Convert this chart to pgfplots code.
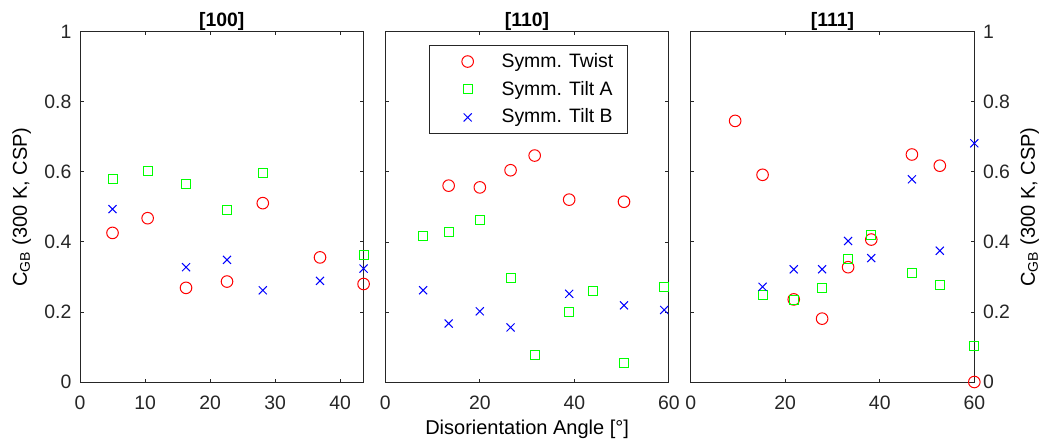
\documentclass[border=0pt]{standalone}
\usepackage{fontspec}
\setmainfont{Liberation Sans}
\usepackage{pgfplots}
\pgfplotsset{compat=1.18}
\definecolor{axgray}{rgb}{0.15,0.15,0.15}
\newcommand{\fs}{\fontsize{9.7}{11.6}\selectfont}
\pgfplotsset{
  panel/.style={
    scale only axis, width=141.8pt, height=175pt, anchor=south west,
    ymin=0, ymax=1, ytick={0,0.2,0.4,0.6,0.8,1},
    axis line style={axgray, line width=0.5pt},
    every tick/.style={axgray, line width=0.5pt},
    major tick length=1.75pt,
    tick align=inside, xtick pos=both, ytick pos=both,
    /pgf/number format/assume math mode=true,
    xticklabel style={font=\fs, text=axgray, anchor=base, yshift=-13.6pt, inner sep=0pt},
    yticklabel style={font=\fs, text=axgray, inner sep=0pt},
    clip=false,
    every axis title/.style={font=\fs\bfseries, at={(0.5,1)}, anchor=base, yshift=2.8pt, inner sep=0pt},
    label style={font=\fs, text=axgray},
  },
  twist/.style={only marks, mark=o, mark size=2.9pt, color=red, mark options={line width=0.5pt}},
  tiltA/.style={only marks, mark=square, mark size=2.25pt, color=green, mark options={line width=0.5pt}},
  tiltB/.style={only marks, mark=x, mark size=2.85pt, color=blue, mark options={line width=0.5pt}},
}
\begin{document}
\begin{tikzpicture}
\useasboundingbox (0pt,0pt) rectangle (523.5pt,219.5pt);
% ---------------- [100]
\begin{axis}[panel, at={(40pt,28.5pt)}, xmin=0, xmax=43.6, xtick={0,10,20,30,40},
  title={[100]},
  yticklabel style={anchor=east, xshift=-4.15pt},
  ylabel={C\textsubscript{GB} (300 K, CSP)},
  every axis y label/.style={at={(axis description cs:0,0.5)}, rotate=90, anchor=base, yshift=26.6pt, inner sep=0pt},
]
\addplot[twist] coordinates {(5.0,0.426) (10.4,0.468) (16.3,0.269) (22.6,0.287) (28.1,0.511) (36.9,0.356) (43.6,0.280)};
\addplot[tiltA] coordinates {(5.0,0.580) (10.4,0.604) (16.3,0.566) (22.6,0.491) (28.1,0.596) (43.6,0.364)};
\addplot[tiltB] coordinates {(5.0,0.494) (16.3,0.328) (22.6,0.349) (28.1,0.262) (36.9,0.289) (43.6,0.324)};
\end{axis}
% ---------------- [110]
\begin{axis}[panel, at={(192.65pt,28.5pt)}, xmin=0, xmax=60, xtick={0,20,40,60},
  title={[110]}, yticklabels={},
  xlabel={Disorientation Angle [°]},
  every axis x label/.style={at={(axis description cs:0.5,0)}, anchor=base, yshift=-26.3pt, inner sep=0pt},
  legend style={at={(0.155,0.9637)}, anchor=north west, draw=axgray, line width=0.5pt,
    inner xsep=5pt, inner ysep=1.9pt, font=\fs, row sep=1.45pt,
    nodes={inner ysep=2pt}},
  legend cell align=left,
  legend image code/.code={\path (0pt,0pt) (28.4pt,0pt); \draw[#1] plot coordinates {(13.7pt,0pt)};},
]
\addplot[twist] coordinates {(13.4,0.561) (20.0,0.556) (26.5,0.605) (31.6,0.647) (38.9,0.521) (50.5,0.515)};
\addplot[tiltA] coordinates {(8.0,0.418) (13.4,0.428) (20.0,0.464) (26.5,0.298) (31.6,0.078) (38.9,0.201) (44.0,0.260) (50.5,0.053) (59.0,0.271)};
\addplot[tiltB] coordinates {(8.0,0.262) (13.4,0.167) (20.0,0.202) (26.5,0.156) (38.9,0.252) (50.5,0.219) (59.0,0.206)};
\legend{Symm. Twist, Symm. Tilt A, Symm. Tilt B}
\end{axis}
% ---------------- [111]
\begin{axis}[panel, at={(345.35pt,28.5pt)}, xmin=0, xmax=60, xtick={0,20,40,60},
  title={[111]}, yticklabel pos=right,
  yticklabel style={anchor=west, xshift=4.15pt},
  ylabel={C\textsubscript{GB} (300 K, CSP)},
  every axis y label/.style={at={(axis description cs:1,0.5)}, rotate=90, anchor=base, yshift=-30.3pt, inner sep=0pt},
]
\addplot[twist] coordinates {(9.4,0.746) (15.2,0.592) (21.8,0.236) (27.8,0.181) (33.3,0.328) (38.2,0.407) (46.8,0.650) (52.7,0.618) (60,0.0)};
\addplot[tiltA] coordinates {(15.2,0.248) (21.8,0.234) (27.8,0.269) (33.3,0.352) (38.2,0.421) (46.8,0.312) (52.7,0.276) (60,0.103)};
\addplot[tiltB] coordinates {(15.2,0.272) (21.8,0.322) (27.8,0.322) (33.3,0.403) (38.2,0.354) (46.8,0.579) (52.7,0.375) (60,0.682)};
\end{axis}
\end{tikzpicture}
\end{document}
